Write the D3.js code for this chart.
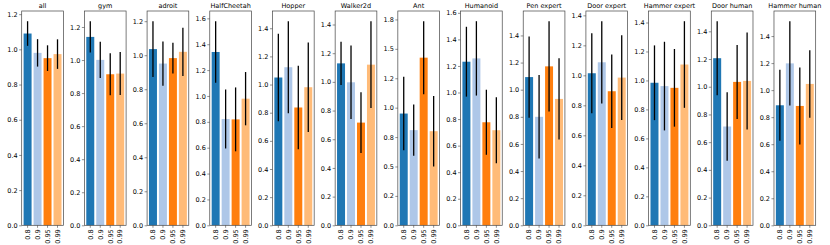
<!DOCTYPE html>
<html lang="en">
<head>
<meta charset="UTF-8">
<title>gamma bars</title>
<script src="https://cdn.jsdelivr.net/npm/d3@7"></script>
<style>
    body { margin: 0; background: #fff; }
    text { font-family: "DejaVu Sans", sans-serif; font-size: 6.5px; fill: #000; }
    .frame { fill: none; stroke: #444; stroke-width: 0.7; }
    .tick line { stroke: #444; stroke-width: 0.6; }
</style>
</head>
<body>
<script>
// panel titles
let titles = ['all', 'gym', 'adroit', 'HalfCheetah', 'Hopper', 'Walker2d', 'Ant', 'Humanoid',
    'Pen expert', 'Door expert', 'Hammer expert', 'Door human', 'Hammer human'];
// x categories
let gammas = ['0.8', '0.9', '0.95', '0.99'];
// bar heights, one row per panel
let means = [
    [1.090, 0.980, 0.950, 0.973],
    [1.140, 1.001, 0.914, 0.918],
    [1.036, 0.951, 0.983, 1.020],
    [1.340, 0.822, 0.819, 0.979],
    [1.050, 1.123, 0.837, 0.981],
    [1.129, 0.997, 0.716, 1.120],
    [0.950, 0.809, 1.425, 0.800],
    [1.232, 1.257, 0.776, 0.716],
    [1.093, 0.800, 1.172, 0.932],
    [1.014, 1.087, 0.894, 0.985],
    [0.984, 0.961, 0.949, 1.110],
    [1.206, 0.713, 1.035, 1.042],
    [0.888, 1.198, 0.883, 1.046]
];
// error bar half-lengths
let errs = [
    [0.070, 0.078, 0.073, 0.084],
    [0.095, 0.109, 0.127, 0.130],
    [0.164, 0.130, 0.091, 0.142],
    [0.238, 0.228, 0.247, 0.206],
    [0.310, 0.327, 0.297, 0.318],
    [0.150, 0.256, 0.212, 0.303],
    [0.312, 0.218, 0.310, 0.300],
    [0.263, 0.280, 0.245, 0.248],
    [0.300, 0.308, 0.333, 0.300],
    [0.266, 0.274, 0.245, 0.283],
    [0.258, 0.306, 0.268, 0.299],
    [0.267, 0.248, 0.267, 0.350],
    [0.263, 0.312, 0.285, 0.250]
];
// y tick spacing per panel
let tickSteps = [0.2, 0.2, 0.2, 0.2, 0.2, 0.2, 0.25, 0.2, 0.2, 0.2, 0.2, 0.2, 0.2];
let colors = ['#1f77b4', '#aec7e8', '#ff7f0e', '#ffbb78'];

let width = 830, height = 245;
let left0 = 21.7, step = 62.69, pw = 41.7;
let plotTop = 11, plotBottom = 225.3;

let svg = d3.select('body').append('svg')
    .attr('width', width)
    .attr('height', height);

// %.1f with round-half-even like python
function fmt(v) {
    let t = v * 10;
    let f = Math.floor(t + 1e-9);
    let r = Math.round(t);
    if (Math.abs(t - f - 0.5) < 1e-9) r = (f % 2 === 0) ? f : f + 1;
    return (r / 10).toFixed(1);
}

titles.forEach(function (title, p) {
    let g = svg.append('g')
        .attr('transform', 'translate(' + (left0 + p * step) + ',0)');

    let ymax = d3.max(means[p], function (d, i) { return d + errs[p][i]; }) * 1.05;

    let x = d3.scaleBand()
        .domain(gammas)
        .range([0, pw])
        .paddingInner(0.2)
        .paddingOuter(0.19);

    let y = d3.scaleLinear()
        .domain([0, ymax])
        .range([plotBottom, plotTop]);

    let tv = d3.range(0, ymax + 1e-9, tickSteps[p]);

    // bars
    g.selectAll('.bar')
        .data(means[p])
        .enter()
        .append('rect')
        .attr('x', function (d, i) { return x(gammas[i]); })
        .attr('y', function (d) { return y(d); })
        .attr('width', x.bandwidth())
        .attr('height', function (d) { return y(0) - y(d); })
        .attr('fill', function (d, i) { return colors[i]; });

    // error bars
    g.selectAll('.err')
        .data(means[p])
        .enter()
        .append('line')
        .attr('x1', function (d, i) { return x(gammas[i]) + x.bandwidth() / 2; })
        .attr('x2', function (d, i) { return x(gammas[i]) + x.bandwidth() / 2; })
        .attr('y1', function (d, i) { return y(d - errs[p][i]); })
        .attr('y2', function (d, i) { return y(d + errs[p][i]); })
        .attr('stroke', '#000')
        .attr('stroke-width', 1.3);

    // y axis
    let yAxis = d3.axisLeft(y)
        .tickValues(tv)
        .tickFormat(fmt)
        .tickSize(2.5)
        .tickPadding(1.5);
    let ya = g.append('g').attr('class', 'axis').call(yAxis);
    ya.select('.domain').remove();
    ya.selectAll('text').style('font-size', '6.5px').style('font-family', '"DejaVu Sans", sans-serif');

    // x axis
    let xAxis = d3.axisBottom(x).tickSize(2.5).tickPadding(1.5);
    let xa = g.append('g').attr('class', 'axis')
        .attr('transform', 'translate(0,' + plotBottom + ')')
        .call(xAxis);
    xa.select('.domain').remove();
    xa.selectAll('text')
        .attr('transform', 'rotate(-90)')
        .attr('x', -4)
        .attr('y', 0)
        .attr('dy', '0.35em')
        .style('text-anchor', 'end')
        .style('font-size', '6.5px')
        .style('font-family', '"DejaVu Sans", sans-serif');

    // frame
    g.append('rect')
        .attr('class', 'frame')
        .attr('x', 0)
        .attr('y', plotTop)
        .attr('width', pw)
        .attr('height', plotBottom - plotTop);

    // title
    g.append('text')
        .attr('x', pw / 2)
        .attr('y', 7.8)
        .attr('text-anchor', 'middle')
        .text(title);
});
</script>
</body>
</html>
